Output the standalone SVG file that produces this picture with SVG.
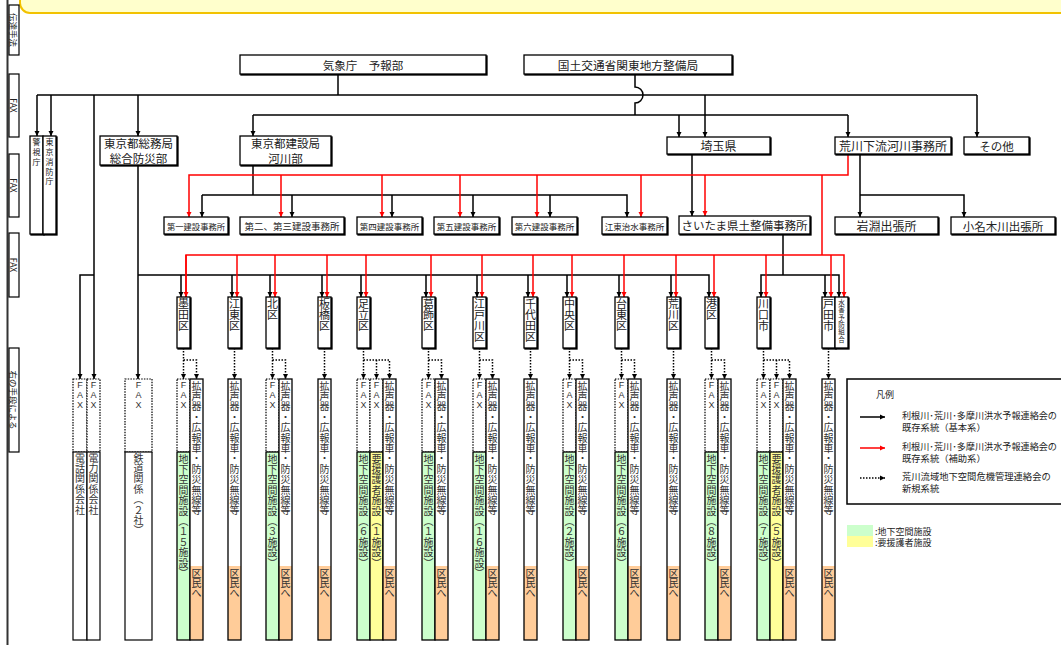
<svg xmlns="http://www.w3.org/2000/svg" width="1061" height="645" viewBox="0 0 1061 645">
<style>
.t{font-family:"Noto Sans CJK JP","Liberation Sans",sans-serif;fill:#222;text-anchor:middle;dominant-baseline:central}
.lt{font-family:"Noto Sans CJK JP","Liberation Sans",sans-serif;fill:#222}
.c{font-family:"Noto Sans CJK JP",sans-serif;fill:#333;font-size:10px;text-anchor:middle;dominant-baseline:central}
.f{font-family:"Liberation Sans",sans-serif;fill:#333;font-size:9px;text-anchor:middle;dominant-baseline:central}
.cw{font-family:"Noto Sans CJK JP",sans-serif;fill:#222;font-size:11px;text-anchor:middle;dominant-baseline:central}
.bx{fill:#fff;stroke:#000;stroke-width:1.3;filter:url(#sh)}
.k{fill:none;stroke:#000;stroke-width:1.5}
.r{fill:none;stroke:#f00;stroke-width:1.5}
.d{fill:none;stroke:#000;stroke-width:1.5;stroke-dasharray:1.5 1.5}
.dt{fill:#fff;stroke:#000;stroke-width:1.2;stroke-dasharray:1.5 1.2}
.gr{fill:#ccffcc;stroke:#000;stroke-width:1.3}
.ye{fill:#ffff99;stroke:#000;stroke-width:1.3}
.or{fill:#ffcc99;stroke:none}
.ol{fill:none;stroke:#000;stroke-width:1.3}
.wh{fill:#fff;stroke:none}
.sb{fill:#fff;stroke:#000;stroke-width:1.2}
</style>
<defs>
<filter id="sh" x="-20%" y="-20%" width="140%" height="140%"><feOffset in="SourceAlpha" dx="1" dy="1" result="o"/><feMerge><feMergeNode in="o"/><feMergeNode in="SourceGraphic"/></feMerge></filter>
<marker id="ab" viewBox="0 0 6 6" refX="6" refY="3" markerWidth="5.5" markerHeight="5.5" markerUnits="userSpaceOnUse" orient="auto"><path d="M0,0L6,3L0,6z" fill="#000"/></marker>
<marker id="ar" viewBox="0 0 6 6" refX="6" refY="3" markerWidth="5.5" markerHeight="5.5" markerUnits="userSpaceOnUse" orient="auto"><path d="M0,0L6,3L0,6z" fill="#f00"/></marker>
</defs>
<rect x="0" y="0" width="1061" height="645" fill="#fff"/>
<rect x="20" y="-22" width="1080" height="35" rx="10" fill="#ffffcc" stroke="#f2c200" stroke-width="2"/>
<g id="side">
<line x1="7.5" y1="0" x2="7.5" y2="645" stroke="#333" stroke-width="2"/>
<rect class="sb" x="9" y="5" width="10" height="50"/>
<rect class="sb" x="9" y="74" width="10" height="63"/>
<rect class="sb" x="9" y="154" width="10" height="63"/>
<rect class="sb" x="9" y="233" width="10" height="64"/>
<rect class="sb" x="9" y="348" width="10" height="104"/>
<text class="t" font-size="8.5" transform="translate(14,30) rotate(90)">伝達手法</text>
<text class="t" font-size="8.5" transform="translate(14,105.5) rotate(90)">FAX</text>
<text class="t" font-size="8.5" transform="translate(14,185.5) rotate(90)">FAX</text>
<text class="t" font-size="8.5" transform="translate(14,265) rotate(90)">FAX</text>
<text class="t" font-size="8.5" transform="translate(14,400) rotate(90)">右の手段による</text>
</g>
<g id="connectors">
<path class="k" d="M338,74V95"/>
<path class="k" d="M37,95H977"/>
<path class="k" marker-end="url(#ab)" d="M37,95V136"/>
<path class="k" marker-end="url(#ab)" d="M51,95V136"/>
<path class="k" marker-end="url(#ab)" d="M138,95V136"/>
<path class="k" marker-end="url(#ab)" d="M705,95V137"/>
<path class="k" marker-end="url(#ab)" d="M977,95V137"/>
<path class="k" marker-end="url(#ab)" d="M94,95V379"/>
<path class="k" marker-end="url(#ab)" d="M94,275H80V379"/>
<path class="k" d="M635,74V87A8,8 0 0 1 635,103V115"/>
<path class="k" d="M253,115H848"/>
<path class="k" marker-end="url(#ab)" d="M253,115V136"/>
<path class="k" marker-end="url(#ab)" d="M679,115V137"/>
<path class="k" marker-end="url(#ab)" d="M848,115V137"/>
<path class="k" marker-end="url(#ab)" d="M138,165V379"/>
<path class="k" marker-end="url(#ab)" d="M138,275H709V297"/>
<path class="k" marker-end="url(#ab)" d="M181,275V297"/>
<path class="k" marker-end="url(#ab)" d="M232,275V297"/>
<path class="k" marker-end="url(#ab)" d="M270,275V297"/>
<path class="k" marker-end="url(#ab)" d="M322,275V297"/>
<path class="k" marker-end="url(#ab)" d="M361,275V297"/>
<path class="k" marker-end="url(#ab)" d="M426,275V297"/>
<path class="k" marker-end="url(#ab)" d="M477,275V297"/>
<path class="k" marker-end="url(#ab)" d="M528,275V297"/>
<path class="k" marker-end="url(#ab)" d="M567,275V297"/>
<path class="k" marker-end="url(#ab)" d="M619,275V297"/>
<path class="k" marker-end="url(#ab)" d="M671,275V297"/>
<path class="k" d="M253,165V195"/>
<path class="k" marker-end="url(#ab)" d="M202,195V217"/>
<path class="k" marker-end="url(#ab)" d="M202,195H627V217"/>
<path class="k" marker-end="url(#ab)" d="M292,195V217"/>
<path class="k" marker-end="url(#ab)" d="M392,195V217"/>
<path class="k" marker-end="url(#ab)" d="M473,195V217"/>
<path class="k" marker-end="url(#ab)" d="M550,195V217"/>
<path class="k" marker-end="url(#ab)" d="M692,154V216"/>
<path class="k" marker-end="url(#ab)" d="M860,154V217"/>
<path class="k" marker-end="url(#ab)" d="M860,195H964V217"/>
<path class="k" d="M783,234V275"/>
<path class="k" marker-end="url(#ab)" d="M783,275H761V297"/>
<path class="k" marker-end="url(#ab)" d="M783,275H839V297"/>
<path class="k" marker-end="url(#ab)" d="M825,275V297"/>
<path class="r" marker-end="url(#ar)" d="M848,154V175H189V217"/>
<path class="r" marker-end="url(#ar)" d="M281,175V217"/>
<path class="r" marker-end="url(#ar)" d="M382,175V217"/>
<path class="r" marker-end="url(#ar)" d="M460,175V217"/>
<path class="r" marker-end="url(#ar)" d="M537,175V217"/>
<path class="r" marker-end="url(#ar)" d="M641,175V217"/>
<path class="r" marker-end="url(#ar)" d="M705,175V216"/>
<path class="r" d="M822,175V255"/>
<path class="r" marker-end="url(#ar)" d="M186,297V255H844V297"/>
<path class="r" marker-end="url(#ar)" d="M186,255V297"/>
<path class="r" marker-end="url(#ar)" d="M237,255V297"/>
<path class="r" marker-end="url(#ar)" d="M275,255V297"/>
<path class="r" marker-end="url(#ar)" d="M327,255V297"/>
<path class="r" marker-end="url(#ar)" d="M366,255V297"/>
<path class="r" marker-end="url(#ar)" d="M431,255V297"/>
<path class="r" marker-end="url(#ar)" d="M482,255V297"/>
<path class="r" marker-end="url(#ar)" d="M533,255V297"/>
<path class="r" marker-end="url(#ar)" d="M572,255V297"/>
<path class="r" marker-end="url(#ar)" d="M624,255V297"/>
<path class="r" marker-end="url(#ar)" d="M676,255V297"/>
<path class="r" marker-end="url(#ar)" d="M714,255V297"/>
<path class="r" marker-end="url(#ar)" d="M766,255V297"/>
<path class="r" marker-end="url(#ar)" d="M831,255V297"/>
<path class="d" marker-end="url(#ab)" d="M183.5,348V379"/>
<path class="d" marker-end="url(#ab)" d="M183.5,360H196.5V379"/>
<path class="d" marker-end="url(#ab)" d="M234.5,348V379"/>
<path class="d" marker-end="url(#ab)" d="M272.5,348V379"/>
<path class="d" marker-end="url(#ab)" d="M272.5,360H285.5V379"/>
<path class="d" marker-end="url(#ab)" d="M324.5,348V379"/>
<path class="d" marker-end="url(#ab)" d="M363.5,348V379"/>
<path class="d" marker-end="url(#ab)" d="M363.5,360H389.5V379"/>
<path class="d" marker-end="url(#ab)" d="M376.5,360V379"/>
<path class="d" marker-end="url(#ab)" d="M428.5,348V379"/>
<path class="d" marker-end="url(#ab)" d="M428.5,360H441.5V379"/>
<path class="d" marker-end="url(#ab)" d="M479.5,348V379"/>
<path class="d" marker-end="url(#ab)" d="M479.5,360H492.5V379"/>
<path class="d" marker-end="url(#ab)" d="M530.5,348V379"/>
<path class="d" marker-end="url(#ab)" d="M569.5,348V379"/>
<path class="d" marker-end="url(#ab)" d="M569.5,360H582.5V379"/>
<path class="d" marker-end="url(#ab)" d="M621.5,348V379"/>
<path class="d" marker-end="url(#ab)" d="M621.5,360H634.5V379"/>
<path class="d" marker-end="url(#ab)" d="M673.5,348V379"/>
<path class="d" marker-end="url(#ab)" d="M711.5,348V379"/>
<path class="d" marker-end="url(#ab)" d="M711.5,360H724.5V379"/>
<path class="d" marker-end="url(#ab)" d="M763.5,348V379"/>
<path class="d" marker-end="url(#ab)" d="M763.5,360H789.5V379"/>
<path class="d" marker-end="url(#ab)" d="M776.5,360V379"/>
<path class="d" marker-end="url(#ab)" d="M828.5,348V379"/>
</g>
<g id="n-kishocho"><rect class="bx" x="240" y="55" width="246" height="19"/><text class="t" x="363" y="64.5" font-size="11.5">気象庁　予報部</text></g>
<g id="n-kokudo"><rect class="bx" x="524" y="55" width="208" height="19"/><text class="t" x="628" y="64.5" font-size="11.7">国土交通省関東地方整備局</text></g>
<g id="n-keishicho"><rect class="bx" x="30" y="136" width="13" height="98"/><text class="t" font-size="8" x="36.5 36.5 36.5" y="141.6 151.6 161.6">警視庁</text></g>
<g id="n-shobo"><rect class="bx" x="43" y="136" width="13" height="98"/><text class="t" font-size="8" x="49.5 49.5 49.5 49.5 49.5" y="141.6 151.4 161.2 171 180.8">東京消防庁</text></g>
<g id="n-somu"><rect class="bx" x="100" y="136" width="77" height="29"/><text class="t" font-size="11.5"><tspan x="138.5" y="143.1">東京都総務局</tspan><tspan x="138.5" y="157.8">総合防災部</tspan></text></g>
<g id="n-kensetsu"><rect class="bx" x="240" y="136" width="91" height="29"/><text class="t" font-size="11.5"><tspan x="285.5" y="143.1">東京都建設局</tspan><tspan x="285.5" y="157.8">河川部</tspan></text></g>
<g id="n-saitama"><rect class="bx" x="667" y="137" width="103" height="17"/><text class="t" x="718.5" y="145.5" font-size="12">埼玉県</text></g>
<g id="n-arakawa"><rect class="bx" x="835" y="137" width="116" height="17"/><text class="t" x="893" y="145.5" font-size="12">荒川下流河川事務所</text></g>
<g id="n-sonota"><rect class="bx" x="964" y="137" width="65" height="17"/><text class="t" x="996.5" y="145.5" font-size="11.5">その他</text></g>
<g id="n-k1"><rect class="bx" x="164" y="217" width="64" height="17"/><text class="t" x="196" y="225.5" font-size="8.3">第一建設事務所</text></g>
<g id="n-k23"><rect class="bx" x="240" y="217" width="104" height="17"/><text class="t" x="292" y="225.5" font-size="9.5">第二、第三建設事務所</text></g>
<g id="n-k4"><rect class="bx" x="357" y="217" width="65" height="17"/><text class="t" x="389.5" y="225.5" font-size="8.5">第四建設事務所</text></g>
<g id="n-k5"><rect class="bx" x="434" y="217" width="65" height="17"/><text class="t" x="466.5" y="225.5" font-size="8.5">第五建設事務所</text></g>
<g id="n-k6"><rect class="bx" x="512" y="217" width="65" height="17"/><text class="t" x="544.5" y="225.5" font-size="8.5">第六建設事務所</text></g>
<g id="n-koto-chisui"><rect class="bx" x="602" y="217" width="65" height="17"/><text class="t" x="634.5" y="225.5" font-size="8.5">江東治水事務所</text></g>
<g id="n-saitama-doboku"><rect class="bx" x="679" y="216" width="131" height="18"/><text class="t" x="744.5" y="225" font-size="11.5">さいたま県土整備事務所</text></g>
<g id="n-iwabuchi"><rect class="bx" x="835" y="217" width="103" height="17"/><text class="t" x="886.5" y="225.5" font-size="12">岩淵出張所</text></g>
<g id="n-onagi"><rect class="bx" x="951" y="217" width="104" height="17"/><text class="t" x="1003" y="225.5" font-size="11.5">小名木川出張所</text></g>
<g id="n-denwa"><rect class="dt" x="73" y="379" width="14" height="73"/><text class="f" x="80 80 80" y="385 395 405">FAX</text><rect class="sb" x="73" y="452" width="14" height="188"/><text class="c" x="80 80 80 80 80 80" y="457 467.4 477.8 488.2 498.6 509">電話関係会社</text></g>
<g id="n-denryoku"><rect class="dt" x="87" y="379" width="13" height="73"/><text class="f" x="93.5 93.5 93.5" y="385 395 405">FAX</text><rect class="sb" x="87" y="452" width="13" height="188"/><text class="c" x="93.5 93.5 93.5 93.5 93.5 93.5" y="457 467.4 477.8 488.2 498.6 509">電力関係会社</text></g>
<g id="n-tetsudo"><rect class="dt" x="125" y="379" width="27" height="73"/><text class="f" x="138.5 138.5 138.5" y="385 395 405">FAX</text><rect class="sb" x="125" y="452" width="27" height="188"/><text class="c" x="138.5 138.5 138.5 138.5 138.5 138.5 138.5 138.5" y="457 467.4 477.8 488.2 498.6 509 519.4 529.8">鉄道関係︵２社︶</text></g>
<g id="w-sumida"><rect class="bx" x="177" y="297" width="13" height="51"/><text class="cw" x="183.5 183.5 183.5" y="303 314 325">墨田区</text>
<rect class="dt" x="177" y="379" width="13" height="73"/><text class="f" x="183.5 183.5 183.5" y="385 395 405">FAX</text><rect class="gr" x="177" y="452" width="13" height="188"/><text class="c" x="183.5 183.5 183.5 183.5 183.5 183.5 183.5 183.5 183.5 183.5 183.5 183.5" y="458 468.4 478.8 489.2 499.6 510 520.4 530.8 541.2 551.6 562 572.4">地下空間施設︵１５施設︶</text>
<rect class="wh" x="190" y="379" width="13" height="187"/><rect class="or" x="190" y="566" width="13" height="74"/><rect class="ol" x="190" y="379" width="13" height="261"/><text class="c" x="196.5 196.5 196.5 196.5 196.5 196.5 196.5 196.5 196.5 196.5 196.5 196.5 196.5" y="385 395.4 405.8 416.2 426.6 437 447.4 457.8 468.2 478.6 489 499.4 509.8">拡声器・広報車・防災無線等</text><text class="c" x="196.5 196.5 196.5" y="572 582.4 592.8">区民へ</text></g>
<g id="w-koto"><rect class="bx" x="228" y="297" width="13" height="51"/><text class="cw" x="234.5 234.5 234.5" y="303 314 325">江東区</text>
<rect class="wh" x="228" y="379" width="13" height="187"/><rect class="or" x="228" y="566" width="13" height="74"/><rect class="ol" x="228" y="379" width="13" height="261"/><text class="c" x="234.5 234.5 234.5 234.5 234.5 234.5 234.5 234.5 234.5 234.5 234.5 234.5 234.5" y="385 395.4 405.8 416.2 426.6 437 447.4 457.8 468.2 478.6 489 499.4 509.8">拡声器・広報車・防災無線等</text><text class="c" x="234.5 234.5 234.5" y="572 582.4 592.8">区民へ</text></g>
<g id="w-kita"><rect class="bx" x="266" y="297" width="13" height="51"/><text class="cw" x="272.5 272.5" y="303 314">北区</text>
<rect class="dt" x="266" y="379" width="13" height="73"/><text class="f" x="272.5 272.5 272.5" y="385 395 405">FAX</text><rect class="gr" x="266" y="452" width="13" height="188"/><text class="c" x="272.5 272.5 272.5 272.5 272.5 272.5 272.5 272.5 272.5 272.5 272.5" y="458 468.4 478.8 489.2 499.6 510 520.4 530.8 541.2 551.6 562">地下空間施設︵３施設︶</text>
<rect class="wh" x="279" y="379" width="13" height="187"/><rect class="or" x="279" y="566" width="13" height="74"/><rect class="ol" x="279" y="379" width="13" height="261"/><text class="c" x="285.5 285.5 285.5 285.5 285.5 285.5 285.5 285.5 285.5 285.5 285.5 285.5 285.5" y="385 395.4 405.8 416.2 426.6 437 447.4 457.8 468.2 478.6 489 499.4 509.8">拡声器・広報車・防災無線等</text><text class="c" x="285.5 285.5 285.5" y="572 582.4 592.8">区民へ</text></g>
<g id="w-itabashi"><rect class="bx" x="318" y="297" width="13" height="51"/><text class="cw" x="324.5 324.5 324.5" y="303 314 325">板橋区</text>
<rect class="wh" x="318" y="379" width="13" height="187"/><rect class="or" x="318" y="566" width="13" height="74"/><rect class="ol" x="318" y="379" width="13" height="261"/><text class="c" x="324.5 324.5 324.5 324.5 324.5 324.5 324.5 324.5 324.5 324.5 324.5 324.5 324.5" y="385 395.4 405.8 416.2 426.6 437 447.4 457.8 468.2 478.6 489 499.4 509.8">拡声器・広報車・防災無線等</text><text class="c" x="324.5 324.5 324.5" y="572 582.4 592.8">区民へ</text></g>
<g id="w-adachi"><rect class="bx" x="357" y="297" width="13" height="51"/><text class="cw" x="363.5 363.5 363.5" y="303 314 325">足立区</text>
<rect class="dt" x="357" y="379" width="13" height="73"/><text class="f" x="363.5 363.5 363.5" y="385 395 405">FAX</text><rect class="gr" x="357" y="452" width="13" height="188"/><text class="c" x="363.5 363.5 363.5 363.5 363.5 363.5 363.5 363.5 363.5 363.5 363.5" y="458 468.4 478.8 489.2 499.6 510 520.4 530.8 541.2 551.6 562">地下空間施設︵６施設︶</text>
<rect class="dt" x="370" y="379" width="13" height="73"/><text class="f" x="376.5 376.5 376.5" y="385 395 405">FAX</text><rect class="ye" x="370" y="452" width="13" height="188"/><text class="c" x="376.5 376.5 376.5 376.5 376.5 376.5 376.5 376.5 376.5 376.5 376.5" y="458 468.4 478.8 489.2 499.6 510 520.4 530.8 541.2 551.6 562">要援護者施設︵１施設︶</text>
<rect class="wh" x="383" y="379" width="13" height="187"/><rect class="or" x="383" y="566" width="13" height="74"/><rect class="ol" x="383" y="379" width="13" height="261"/><text class="c" x="389.5 389.5 389.5 389.5 389.5 389.5 389.5 389.5 389.5 389.5 389.5 389.5 389.5" y="385 395.4 405.8 416.2 426.6 437 447.4 457.8 468.2 478.6 489 499.4 509.8">拡声器・広報車・防災無線等</text><text class="c" x="389.5 389.5 389.5" y="572 582.4 592.8">区民へ</text></g>
<g id="w-katsushika"><rect class="bx" x="422" y="297" width="13" height="51"/><text class="cw" x="428.5 428.5 428.5" y="303 314 325">葛飾区</text>
<rect class="dt" x="422" y="379" width="13" height="73"/><text class="f" x="428.5 428.5 428.5" y="385 395 405">FAX</text><rect class="gr" x="422" y="452" width="13" height="188"/><text class="c" x="428.5 428.5 428.5 428.5 428.5 428.5 428.5 428.5 428.5 428.5 428.5" y="458 468.4 478.8 489.2 499.6 510 520.4 530.8 541.2 551.6 562">地下空間施設︵１施設︶</text>
<rect class="wh" x="435" y="379" width="13" height="187"/><rect class="or" x="435" y="566" width="13" height="74"/><rect class="ol" x="435" y="379" width="13" height="261"/><text class="c" x="441.5 441.5 441.5 441.5 441.5 441.5 441.5 441.5 441.5 441.5 441.5 441.5 441.5" y="385 395.4 405.8 416.2 426.6 437 447.4 457.8 468.2 478.6 489 499.4 509.8">拡声器・広報車・防災無線等</text><text class="c" x="441.5 441.5 441.5" y="572 582.4 592.8">区民へ</text></g>
<g id="w-edogawa"><rect class="bx" x="473" y="297" width="13" height="51"/><text class="cw" x="479.5 479.5 479.5 479.5" y="303 314 325 336">江戸川区</text>
<rect class="dt" x="473" y="379" width="13" height="73"/><text class="f" x="479.5 479.5 479.5" y="385 395 405">FAX</text><rect class="gr" x="473" y="452" width="13" height="188"/><text class="c" x="479.5 479.5 479.5 479.5 479.5 479.5 479.5 479.5 479.5 479.5 479.5 479.5" y="458 468.4 478.8 489.2 499.6 510 520.4 530.8 541.2 551.6 562 572.4">地下空間施設︵１６施設︶</text>
<rect class="wh" x="486" y="379" width="13" height="187"/><rect class="or" x="486" y="566" width="13" height="74"/><rect class="ol" x="486" y="379" width="13" height="261"/><text class="c" x="492.5 492.5 492.5 492.5 492.5 492.5 492.5 492.5 492.5 492.5 492.5 492.5 492.5" y="385 395.4 405.8 416.2 426.6 437 447.4 457.8 468.2 478.6 489 499.4 509.8">拡声器・広報車・防災無線等</text><text class="c" x="492.5 492.5 492.5" y="572 582.4 592.8">区民へ</text></g>
<g id="w-chiyoda"><rect class="bx" x="524" y="297" width="13" height="51"/><text class="cw" x="530.5 530.5 530.5 530.5" y="303 314 325 336">千代田区</text>
<rect class="wh" x="524" y="379" width="13" height="187"/><rect class="or" x="524" y="566" width="13" height="74"/><rect class="ol" x="524" y="379" width="13" height="261"/><text class="c" x="530.5 530.5 530.5 530.5 530.5 530.5 530.5 530.5 530.5 530.5 530.5 530.5 530.5" y="385 395.4 405.8 416.2 426.6 437 447.4 457.8 468.2 478.6 489 499.4 509.8">拡声器・広報車・防災無線等</text><text class="c" x="530.5 530.5 530.5" y="572 582.4 592.8">区民へ</text></g>
<g id="w-chuo"><rect class="bx" x="563" y="297" width="13" height="51"/><text class="cw" x="569.5 569.5 569.5" y="303 314 325">中央区</text>
<rect class="dt" x="563" y="379" width="13" height="73"/><text class="f" x="569.5 569.5 569.5" y="385 395 405">FAX</text><rect class="gr" x="563" y="452" width="13" height="188"/><text class="c" x="569.5 569.5 569.5 569.5 569.5 569.5 569.5 569.5 569.5 569.5 569.5" y="458 468.4 478.8 489.2 499.6 510 520.4 530.8 541.2 551.6 562">地下空間施設︵２施設︶</text>
<rect class="wh" x="576" y="379" width="13" height="187"/><rect class="or" x="576" y="566" width="13" height="74"/><rect class="ol" x="576" y="379" width="13" height="261"/><text class="c" x="582.5 582.5 582.5 582.5 582.5 582.5 582.5 582.5 582.5 582.5 582.5 582.5 582.5" y="385 395.4 405.8 416.2 426.6 437 447.4 457.8 468.2 478.6 489 499.4 509.8">拡声器・広報車・防災無線等</text><text class="c" x="582.5 582.5 582.5" y="572 582.4 592.8">区民へ</text></g>
<g id="w-taito"><rect class="bx" x="615" y="297" width="13" height="51"/><text class="cw" x="621.5 621.5 621.5" y="303 314 325">台東区</text>
<rect class="dt" x="615" y="379" width="13" height="73"/><text class="f" x="621.5 621.5 621.5" y="385 395 405">FAX</text><rect class="gr" x="615" y="452" width="13" height="188"/><text class="c" x="621.5 621.5 621.5 621.5 621.5 621.5 621.5 621.5 621.5 621.5 621.5" y="458 468.4 478.8 489.2 499.6 510 520.4 530.8 541.2 551.6 562">地下空間施設︵６施設︶</text>
<rect class="wh" x="628" y="379" width="13" height="187"/><rect class="or" x="628" y="566" width="13" height="74"/><rect class="ol" x="628" y="379" width="13" height="261"/><text class="c" x="634.5 634.5 634.5 634.5 634.5 634.5 634.5 634.5 634.5 634.5 634.5 634.5 634.5" y="385 395.4 405.8 416.2 426.6 437 447.4 457.8 468.2 478.6 489 499.4 509.8">拡声器・広報車・防災無線等</text><text class="c" x="634.5 634.5 634.5" y="572 582.4 592.8">区民へ</text></g>
<g id="w-arakawa"><rect class="bx" x="667" y="297" width="13" height="51"/><text class="cw" x="673.5 673.5 673.5" y="303 314 325">荒川区</text>
<rect class="wh" x="667" y="379" width="13" height="187"/><rect class="or" x="667" y="566" width="13" height="74"/><rect class="ol" x="667" y="379" width="13" height="261"/><text class="c" x="673.5 673.5 673.5 673.5 673.5 673.5 673.5 673.5 673.5 673.5 673.5 673.5 673.5" y="385 395.4 405.8 416.2 426.6 437 447.4 457.8 468.2 478.6 489 499.4 509.8">拡声器・広報車・防災無線等</text><text class="c" x="673.5 673.5 673.5" y="572 582.4 592.8">区民へ</text></g>
<g id="w-minato"><rect class="bx" x="705" y="297" width="13" height="51"/><text class="cw" x="711.5 711.5" y="303 314">港区</text>
<rect class="dt" x="705" y="379" width="13" height="73"/><text class="f" x="711.5 711.5 711.5" y="385 395 405">FAX</text><rect class="gr" x="705" y="452" width="13" height="188"/><text class="c" x="711.5 711.5 711.5 711.5 711.5 711.5 711.5 711.5 711.5 711.5 711.5" y="458 468.4 478.8 489.2 499.6 510 520.4 530.8 541.2 551.6 562">地下空間施設︵８施設︶</text>
<rect class="wh" x="718" y="379" width="13" height="187"/><rect class="or" x="718" y="566" width="13" height="74"/><rect class="ol" x="718" y="379" width="13" height="261"/><text class="c" x="724.5 724.5 724.5 724.5 724.5 724.5 724.5 724.5 724.5 724.5 724.5 724.5 724.5" y="385 395.4 405.8 416.2 426.6 437 447.4 457.8 468.2 478.6 489 499.4 509.8">拡声器・広報車・防災無線等</text><text class="c" x="724.5 724.5 724.5" y="572 582.4 592.8">区民へ</text></g>
<g id="w-kawaguchi"><rect class="bx" x="757" y="297" width="13" height="51"/><text class="cw" x="763.5 763.5 763.5" y="303 314 325">川口市</text>
<rect class="dt" x="757" y="379" width="13" height="73"/><text class="f" x="763.5 763.5 763.5" y="385 395 405">FAX</text><rect class="gr" x="757" y="452" width="13" height="188"/><text class="c" x="763.5 763.5 763.5 763.5 763.5 763.5 763.5 763.5 763.5 763.5 763.5" y="458 468.4 478.8 489.2 499.6 510 520.4 530.8 541.2 551.6 562">地下空間施設︵７施設︶</text>
<rect class="dt" x="770" y="379" width="13" height="73"/><text class="f" x="776.5 776.5 776.5" y="385 395 405">FAX</text><rect class="ye" x="770" y="452" width="13" height="188"/><text class="c" x="776.5 776.5 776.5 776.5 776.5 776.5 776.5 776.5 776.5 776.5 776.5" y="458 468.4 478.8 489.2 499.6 510 520.4 530.8 541.2 551.6 562">要援護者施設︵５施設︶</text>
<rect class="wh" x="783" y="379" width="13" height="187"/><rect class="or" x="783" y="566" width="13" height="74"/><rect class="ol" x="783" y="379" width="13" height="261"/><text class="c" x="789.5 789.5 789.5 789.5 789.5 789.5 789.5 789.5 789.5 789.5 789.5 789.5 789.5" y="385 395.4 405.8 416.2 426.6 437 447.4 457.8 468.2 478.6 489 499.4 509.8">拡声器・広報車・防災無線等</text><text class="c" x="789.5 789.5 789.5" y="572 582.4 592.8">区民へ</text></g>
<g id="w-toda"><rect class="bx" x="822" y="297" width="13" height="51"/><text class="cw" x="828.5 828.5 828.5" y="303 314 325">戸田市</text>
<rect class="wh" x="822" y="379" width="13" height="187"/><rect class="or" x="822" y="566" width="13" height="74"/><rect class="ol" x="822" y="379" width="13" height="261"/><text class="c" x="828.5 828.5 828.5 828.5 828.5 828.5 828.5 828.5 828.5 828.5 828.5 828.5 828.5" y="385 395.4 405.8 416.2 426.6 437 447.4 457.8 468.2 478.6 489 499.4 509.8">拡声器・広報車・防災無線等</text><text class="c" x="828.5 828.5 828.5" y="572 582.4 592.8">区民へ</text></g>
<g id="w-suigai"><rect class="bx" x="835" y="297" width="13" height="51"/><text class="t" font-size="6.5" x="841.5 841.5 841.5 841.5 841.5 841.5" y="302 309.3 316.6 323.9 331.2 338.5">水害予防組合</text></g>
<g id="legend">
<rect x="847" y="379" width="220" height="125" fill="#fff" stroke="#000" stroke-width="1.5"/>
<text class="lt" x="876" y="398" font-size="9">凡例</text>
<path class="k" marker-end="url(#ab)" d="M860,417H885"/>
<path class="r" marker-end="url(#ar)" d="M860,448H885"/>
<path class="d" marker-end="url(#ab)" d="M860,478H885"/>
<text class="lt" x="902" y="418.5" font-size="9.3" textLength="155" lengthAdjust="spacingAndGlyphs">利根川･荒川･多摩川洪水予報連絡会の</text>
<text class="lt" x="902" y="430.5" font-size="9.3">既存系統（基本系）</text>
<text class="lt" x="902" y="449.5" font-size="9.3" textLength="155" lengthAdjust="spacingAndGlyphs">利根川･荒川･多摩川洪水予報連絡会の</text>
<text class="lt" x="902" y="461.5" font-size="9.3">既存系統（補助系）</text>
<text class="lt" x="902" y="479.5" font-size="9.3">荒川流域地下空間危機管理連絡会の</text>
<text class="lt" x="902" y="491.5" font-size="9.3">新規系統</text>
<rect x="847" y="525" width="26" height="11" fill="#ccffcc"/>
<rect x="847" y="536" width="26" height="11" fill="#ffff99"/>
<text class="lt" x="875" y="534.5" font-size="9">:地下空間施設</text>
<text class="lt" x="875" y="545.5" font-size="9">:要援護者施設</text>
</g>
</svg>
